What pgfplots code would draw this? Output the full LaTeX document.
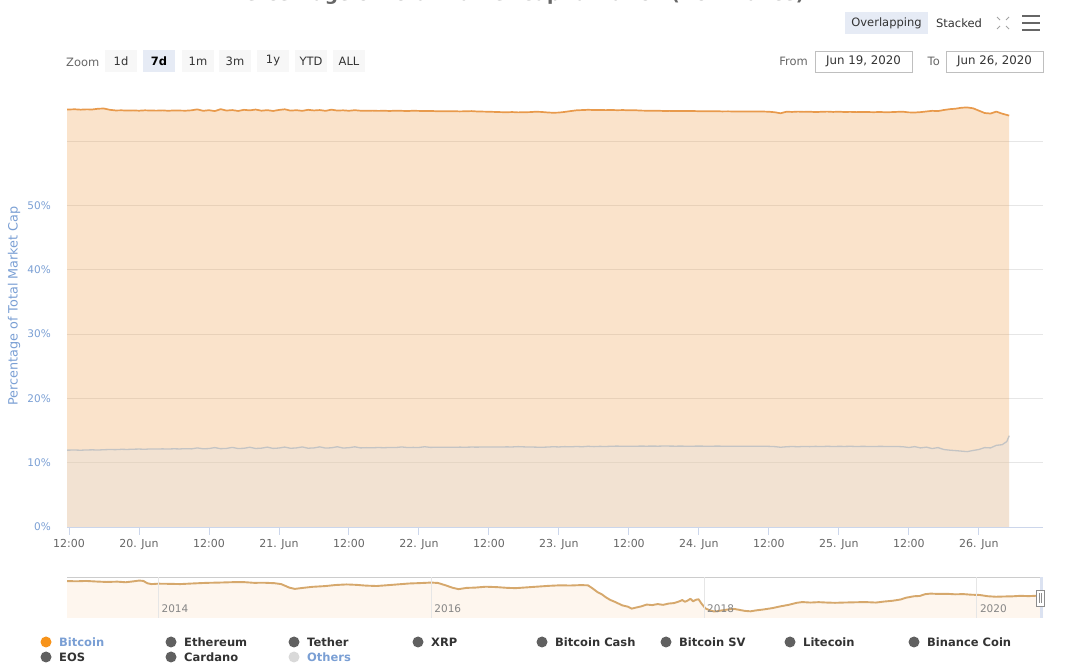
\documentclass[border=0pt]{standalone}
\usepackage{pgfplots}
\pgfplotsset{compat=1.18}
\usepackage{pgfplotstable}
\usepackage{fontspec}
\setmainfont{DejaVu Sans}
\definecolor{btcline}{HTML}{E89A4C}
\definecolor{btcfill}{HTML}{EEA252}
\definecolor{othline}{HTML}{C4C4C4}
\definecolor{othfill}{HTML}{E1E1E1}
\definecolor{axisgray}{HTML}{CCD6EB}
\definecolor{gridgray}{HTML}{E6E6E6}
\definecolor{xlab}{HTML}{666666}
\definecolor{ylab}{HTML}{7A9FD4}
\definecolor{txt}{HTML}{333333}
\definecolor{btnbg}{HTML}{F7F7F7}
\definecolor{btnsel}{HTML}{E6EBF5}
\definecolor{navline}{HTML}{D6A86C}
\definecolor{navfill}{HTML}{FEF6EE}
\definecolor{dotgray}{HTML}{606060}
\definecolor{btcdot}{HTML}{F7931A}

\pgfplotstableread{
h v
11.66 64.92
13 64.96
14 64.90
15 64.95
16 64.93
17 65.05
18 65.08
19 64.88
20 64.78
21 64.80
22 64.76
23 64.79
24 64.74
25 64.80
26 64.77
27 64.75
28 64.79
29 64.73
30 64.78
31 64.76
32 64.74
33 64.80
34 64.95
35 64.72
36 64.82
37 64.68
38 64.98
39 64.76
40 64.84
41 64.70
42 64.88
43 64.79
44 64.92
45 64.74
46 64.83
47 64.70
48 64.86
49 64.96
50 64.75
51 64.82
52 64.72
53 64.88
54 64.78
55 64.84
56 64.72
57 64.90
58 64.76
59 64.80
60 64.73
61 64.82
62 64.74
63 64.72
64 64.75
65 64.71
66 64.73
67 64.70
68 64.74
69 64.72
70 64.69
71 64.73
72 64.71
73 64.68
74 64.70
75 64.66
76 64.67
77 64.64
78 64.66
79 64.63
80 64.65
81 64.68
82 64.62
83 64.60
84 64.58
85 64.55
86 64.52
87 64.50
88 64.53
89 64.48
90 64.50
91 64.52
92 64.58
93 64.55
94 64.47
95 64.42
96 64.45
97 64.55
98 64.68
99 64.80
100 64.84
101 64.88
102 64.85
103 64.86
104 64.83
105 64.85
106 64.82
107 64.84
108 64.80
109 64.82
110 64.76
111 64.74
112 64.72
113 64.73
114 64.70
115 64.71
116 64.69
117 64.70
118 64.68
119 64.69
120 64.66
121 64.67
122 64.65
123 64.66
124 64.63
125 64.64
126 64.62
127 64.63
128 64.61
129 64.62
130 64.60
131 64.61
132 64.58
133 64.50
134 64.34
135 64.58
136 64.55
137 64.60
138 64.56
139 64.58
140 64.53
141 64.57
142 64.60
143 64.55
144 64.58
145 64.54
146 64.56
147 64.52
148 64.55
149 64.53
150 64.51
151 64.54
152 64.50
153 64.52
154 64.56
155 64.58
156 64.48
157 64.46
158 64.52
159 64.62
160 64.72
161 64.68
162 64.85
163 64.98
164 65.05
165 65.20
166 65.25
167 65.12
168 64.75
169 64.38
170 64.30
171 64.60
172 64.28
173.2 63.98
}\btc

\pgfplotstableread{
h v
11.66 11.95
13 11.97
14 11.94
15 11.98
16 12.00
17 11.97
18 12.02
19 12.05
20 12.03
21 12.08
22 12.06
23 12.10
24 12.12
25 12.09
26 12.14
27 12.12
28 12.15
29 12.13
30 12.16
31 12.14
32 12.18
33 12.15
34 12.30
35 12.16
36 12.20
37 12.35
38 12.18
39 12.22
40 12.38
41 12.20
42 12.24
43 12.40
44 12.21
45 12.26
46 12.42
47 12.22
48 12.28
49 12.43
50 12.24
51 12.30
52 12.45
53 12.25
54 12.30
55 12.46
56 12.27
57 12.32
58 12.48
59 12.28
60 12.33
61 12.47
62 12.30
63 12.34
64 12.32
65 12.36
66 12.33
67 12.37
68 12.35
69 12.45
70 12.36
71 12.38
72 12.37
73 12.48
74 12.38
75 12.40
76 12.39
77 12.41
78 12.40
79 12.42
80 12.41
81 12.43
82 12.42
83 12.44
84 12.43
85 12.45
86 12.44
87 12.46
88 12.45
89 12.50
90 12.46
91 12.44
92 12.42
93 12.40
94 12.43
95 12.48
96 12.45
97 12.50
98 12.47
99 12.52
100 12.48
101 12.55
102 12.50
103 12.54
104 12.52
105 12.56
106 12.58
107 12.55
108 12.57
109 12.56
110 12.58
111 12.57
112 12.58
113 12.57
114 12.59
115 12.58
116 12.57
117 12.58
118 12.56
119 12.57
120 12.58
121 12.57
122 12.56
123 12.58
124 12.57
125 12.56
126 12.57
127 12.55
128 12.56
129 12.57
130 12.55
131 12.56
132 12.54
133 12.50
134 12.40
135 12.48
136 12.52
137 12.48
138 12.53
139 12.50
140 12.54
141 12.51
142 12.55
143 12.52
144 12.54
145 12.53
146 12.55
147 12.52
148 12.54
149 12.53
150 12.52
151 12.54
152 12.53
153 12.51
154 12.52
155 12.48
156 12.36
157 12.50
158 12.30
159 12.42
160 12.20
161 12.35
162 12.05
163 11.95
164 11.88
165 11.80
166 11.72
167 11.90
168 12.05
169 12.35
170 12.30
171 12.70
172 12.80
172.8 13.30
173.2 14.20
}\oth

\pgfplotstableread{
t v
2013.33 94.0
2013.40 93.5
2013.47 94.2
2013.55 93.0
2013.62 92.2
2013.70 92.8
2013.76 91.6
2013.82 93.5
2013.86 95.0
2013.89 94.2
2013.92 89.5
2013.95 88.0
2014.00 88.8
2014.08 88.5
2014.16 88.0
2014.25 89.2
2014.35 90.4
2014.45 91.0
2014.55 91.8
2014.62 92.0
2014.70 90.5
2014.78 90.6
2014.85 89.8
2014.90 88.0
2014.96 81.0
2015.00 78.5
2015.06 80.5
2015.13 82.6
2015.22 84.0
2015.30 86.2
2015.38 87.3
2015.45 86.5
2015.52 85.0
2015.60 84.2
2015.68 85.8
2015.76 87.5
2015.84 89.2
2015.92 90.0
2016.00 91.0
2016.05 90.2
2016.10 86.0
2016.16 80.5
2016.20 78.0
2016.26 80.5
2016.32 81.0
2016.40 82.8
2016.48 82.0
2016.56 80.5
2016.62 80.0
2016.70 81.5
2016.78 83.0
2016.86 84.5
2016.94 85.5
2017.02 85.2
2017.10 86.0
2017.15 85.5
2017.18 80.0
2017.22 72.0
2017.25 68.0
2017.28 62.0
2017.31 57.0
2017.35 52.5
2017.40 46.0
2017.44 43.5
2017.47 39.5
2017.50 41.5
2017.54 44.0
2017.58 47.5
2017.62 46.5
2017.66 48.5
2017.70 47.0
2017.74 49.5
2017.78 50.5
2017.82 54.0
2017.84 56.5
2017.86 53.0
2017.88 55.5
2017.90 59.0
2017.92 54.0
2017.94 57.0
2017.96 58.0
2017.98 50.0
2018.01 40.0
2018.04 36.5
2018.07 34.0
2018.10 34.5
2018.14 36.5
2018.18 38.0
2018.22 39.0
2018.26 37.0
2018.30 35.0
2018.34 34.2
2018.38 36.0
2018.44 38.0
2018.50 40.5
2018.56 44.0
2018.62 47.0
2018.68 51.0
2018.72 52.5
2018.78 51.5
2018.84 52.3
2018.90 51.5
2018.96 51.0
2019.02 51.5
2019.10 52.0
2019.18 52.5
2019.26 51.5
2019.32 53.5
2019.38 55.0
2019.44 57.5
2019.48 61.0
2019.54 64.0
2019.58 64.5
2019.62 68.0
2019.66 69.2
2019.72 68.5
2019.78 68.8
2019.84 67.8
2019.90 68.2
2019.96 67.0
2020.02 66.5
2020.08 64.0
2020.14 63.0
2020.20 63.5
2020.26 63.8
2020.32 64.8
2020.38 64.2
2020.44 65.0
2020.485 64.8
}\nav

\newcommand{\fs}[1]{\fontsize{#1bp}{#1bp}\selectfont}

\begin{document}
\begin{tikzpicture}
\path[use as bounding box] (0,0) rectangle (1080bp,668bp);

% cut-off title (only its lowest pixels fall on the page, as in the screenshot)
\node[anchor=base, inner sep=0pt, text=xlab, font=\fs{18.5}\bfseries] at (518bp,667bp) {Percentage of Total Market Capitalization (Dominance)};

% top-right controls
\fill[btnsel] (845bp,634bp) rectangle (928bp,656bp);
\node[text=txt, font=\fs{11.5}] at (886.5bp,645bp) {Overlapping};
\node[text=txt, font=\fs{11.5}] at (959bp,645bp) {Stacked};
\begin{scope}[draw=xlab!60, line width=1bp]
\draw (997bp,651bp) -- (1000bp,648bp); \draw (1009bp,651bp) -- (1006bp,648bp);
\draw (997bp,639bp) -- (1000bp,642bp); \draw (1009bp,639bp) -- (1006bp,642bp);
\end{scope}
\begin{scope}[draw=xlab, line width=2.4bp]
\draw (1022bp,652bp) -- (1040bp,652bp);
\draw (1022bp,645bp) -- (1040bp,645bp);
\draw (1022bp,638bp) -- (1040bp,638bp);
\end{scope}

% zoom buttons
\node[text=xlab, font=\fs{11.5}, anchor=west, inner sep=0pt] at (66bp,606bp) {Zoom};
\foreach \cx/\lab in {121/1d,198/1m,235/3m,273/1y,311/YTD,349/ALL}{
  \fill[btnbg] ({\cx bp-16bp},596bp) rectangle ({\cx bp+16bp},618bp);
  \node[text=txt, font=\fs{11.5}] at (\cx bp,607bp) {\lab};
}
\fill[btnsel] (143bp,596bp) rectangle (175bp,618bp);
\node[text=black, font=\fs{11.5}\bfseries] at (159bp,607bp) {7d};

% date range
\node[text=xlab, font=\fs{11.5}, anchor=east, inner sep=0pt] at (808bp,607bp) {From};
\draw[draw=black!25, fill=white, line width=0.8bp] (815bp,596bp) rectangle (912bp,617bp);
\node[text=txt, font=\fs{11.8}] at (863.5bp,606.5bp) {Jun 19, 2020};
\node[text=xlab, font=\fs{11.5}, anchor=east, inner sep=0pt] at (940bp,607bp) {To};
\draw[draw=black!25, fill=white, line width=0.8bp] (946bp,596bp) rectangle (1043bp,617bp);
\node[text=txt, font=\fs{11.8}] at (994.5bp,606.5bp) {Jun 26, 2020};

% y axis title
\node[rotate=90, text=ylab, font=\fs{12.8}] at (14bp,362bp) {Percentage of Total Market Cap};

% main chart
\begin{axis}[
  at={(67bp,141bp)}, anchor=south west,
  width=976bp, height=427.6bp, scale only axis,
  xmin=11.66, xmax=179, ymin=0, ymax=66.5,
  axis x line*=bottom, axis y line*=left,
  y axis line style={draw=none},
  x axis line style={draw=axisgray, line width=0.9bp},
  ytick={0,10,20,30,40,50,60},
  yticklabels={0\%,10\%,20\%,30\%,40\%,50\%,{}},
  ymajorgrids, grid style={draw=gridgray, line width=0.8bp},
  xtick={12,24,...,168},
  xticklabels={12:00,20. Jun,12:00,21. Jun,12:00,22. Jun,12:00,23. Jun,12:00,24. Jun,12:00,25. Jun,12:00,26. Jun},
  xtick align=outside, ytick align=inside,
  major tick length=8bp,
  ytick style={draw=none},
  xtick style={draw=axisgray, line width=0.9bp},
  xticklabel style={font=\fs{11}, text=xlab, anchor=north, inner sep=0pt, yshift=-4bp},
  yticklabel style={font=\fs{10.5}, text=ylab, anchor=east, inner sep=0pt, xshift=-16bp},
]
\addplot[draw=none, fill=btcfill, fill opacity=0.3] table[x=h,y=v] {\btc} \closedcycle;
\addplot[draw=none, fill=othfill, fill opacity=0.32] table[x=h,y=v] {\oth} \closedcycle;
\addplot[othline, line width=1.3bp, line join=round] table[x=h,y=v] {\oth};
\addplot[btcline, line width=1.7bp, line join=round] table[x=h,y=v] {\btc};
\end{axis}

% navigator
\begin{axis}[
  at={(67bp,50bp)}, anchor=south west,
  width=976bp, height=41bp, scale only axis,
  xmin=2013.33, xmax=2020.485, ymin=21, ymax=102,
  axis on top,
  axis line style={draw=none},
  xtick={2014,2016,2018,2020},
  xticklabels={2014,2016,2018,2020},
  ytick=\empty,
  xmajorgrids, grid style={draw=gridgray, line width=0.8bp},
  major tick length=0pt,
  xticklabel style={font=\fs{10.5}, text=xlab!80, anchor=south west, inner sep=0pt, xshift=3bp, yshift=5bp},
]
\addplot[draw=none, fill=navfill] table[x=t,y=v] {\nav} \closedcycle;
\addplot[navline, line width=1.9bp, line join=round] table[x=t,y=v] {\nav};
\draw[draw=black!20, line width=0.9bp] (rel axis cs:0,1) -- (rel axis cs:1,1);
\end{axis}

% navigator selection and handle
\fill[axisgray!70] (1039.5bp,50bp) rectangle (1042.5bp,91bp);
\draw[draw=black!45, fill=white, line width=0.8bp] (1036.5bp,62bp) rectangle (1044.5bp,78bp);
\draw[draw=black!45, line width=0.8bp] (1039.3bp,65bp) -- (1039.3bp,75bp);
\draw[draw=black!45, line width=0.8bp] (1041.7bp,65bp) -- (1041.7bp,75bp);

% legend
\foreach \cx/\lab/\col/\tc/\cy in {46/Bitcoin/btcdot/ylab/26, 171/Ethereum/dotgray/txt/26, 294/Tether/dotgray/txt/26, 418/XRP/dotgray/txt/26, 542/Bitcoin Cash/dotgray/txt/26, 666/Bitcoin SV/dotgray/txt/26, 790/Litecoin/dotgray/txt/26, 914/Binance Coin/dotgray/txt/26, 46/EOS/dotgray/txt/11, 171/Cardano/dotgray/txt/11, 294/Others/black!15/ylab/11}{
  \fill[\col] (\cx bp,\cy bp) circle (5.5bp);
  \node[anchor=west, inner sep=0pt, text=\tc, font=\fs{11.5}\bfseries] at ({\cx bp+13bp},\cy bp) {\lab};
}
\end{tikzpicture}
\end{document}
